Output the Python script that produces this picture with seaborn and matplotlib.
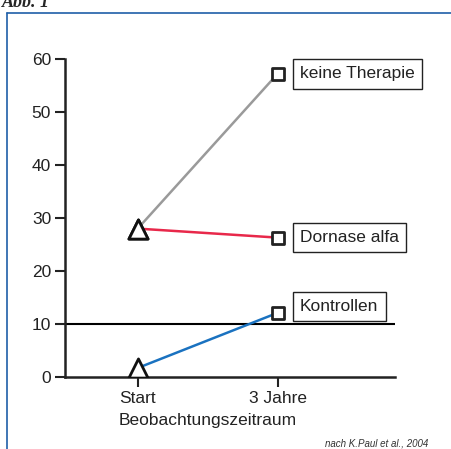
import pandas as pd
import matplotlib.pyplot as plt
from matplotlib.lines import Line2D
import seaborn as sns

# data
groups = ["keine Therapie", "Dornase alfa", "Kontrollen"]
timepoints = ["Start", "3 Jahre"]
start_values = [28, 28, 1.7]
end_values = [57.2, 26.3, 12.1]
label_y = [57.2, 26.3, 13.3]
colors = ["#9a9a9a", "#e8284a", "#1a72c0"]
ref_line = 10
yticks = [0, 10, 20, 30, 40, 50, 60]

rows = []
for g, s, e in zip(groups, start_values, end_values):
    rows.append({"group": g, "time": timepoints[0], "x": 0, "value": s})
    rows.append({"group": g, "time": timepoints[1], "x": 1, "value": e})
df = pd.DataFrame(rows)

sns.set_theme(style="white")
plt.rcParams['font.family'] = ['Liberation Sans', 'DejaVu Sans']

fig = plt.figure(figsize=(4.51, 4.49), dpi=100)
ax = fig.add_axes([65 / 451, 1 - 377 / 449, 330 / 451, 318 / 449])

sns.lineplot(data=df, x="x", y="value", hue="group", hue_order=groups,
             palette=colors, linewidth=1.8, legend=False, ax=ax, zorder=2)

ax.axhline(ref_line, color="black", linewidth=1.5, zorder=1)

sns.scatterplot(data=df[df["time"] == "Start"], x="x", y="value", marker="^",
                s=190, color="white", edgecolor="#111111", linewidth=2,
                ax=ax, zorder=3, legend=False)
sns.scatterplot(data=df[df["time"] == "3 Jahre"], x="x", y="value", marker="s",
                s=70, color="white", edgecolor="#222222", linewidth=2,
                ax=ax, zorder=3, legend=False)

for g, y in zip(groups, label_y):
    ax.text(1.16, y, g, fontsize=12.5, va="center", ha="left", color="#222222",
            bbox=dict(boxstyle="square,pad=0.42", fc="white", ec="#222222", lw=1))

ax.set_xlim(-0.52, 1.84)
ax.set_ylim(0, 60)
ax.set_xticks([0, 1])
ax.set_xticklabels(timepoints)
ax.set_yticks(yticks)
ax.tick_params(axis="both", which="both", direction="out", length=7, width=1.5,
               color="#222222", labelsize=12.5, labelcolor="#222222", pad=3)
ax.tick_params(left=True, bottom=True)
ax.set_xlabel("")
ax.set_ylabel("")
ax.text(0.5, -0.138, "Beobachtungszeitraum", fontsize=12.5, color="#222222",
        ha="center", va="center", transform=ax.get_xaxis_transform())

for side in ["top", "right"]:
    ax.spines[side].set_visible(False)
for side in ["left", "bottom"]:
    ax.spines[side].set_linewidth(1.8)
    ax.spines[side].set_color("#222222")

# blue frame and clipped title/footnote, as in the reference
frame_color = "#1f5fa8"
fig.add_artist(Line2D([7 / 451, 7 / 451], [0, 1 - 13 / 449], color=frame_color,
                      linewidth=1.2, transform=fig.transFigure))
fig.add_artist(Line2D([7 / 451, 1], [1 - 13 / 449, 1 - 13 / 449], color=frame_color,
                      linewidth=1.2, transform=fig.transFigure))
fig.text(2 / 451, 0.994, "Abb. 1", fontsize=13, fontweight="bold", fontstyle="italic",
         family=["Liberation Serif"], ha="left", va="center")
fig.text(428 / 451, 1 - 444 / 449, "nach K.Paul et al., 2004", fontsize=7,
         fontstyle="italic", color="#333333", ha="right", va="center")

plt.savefig("out.png", dpi=100)
plt.close()
